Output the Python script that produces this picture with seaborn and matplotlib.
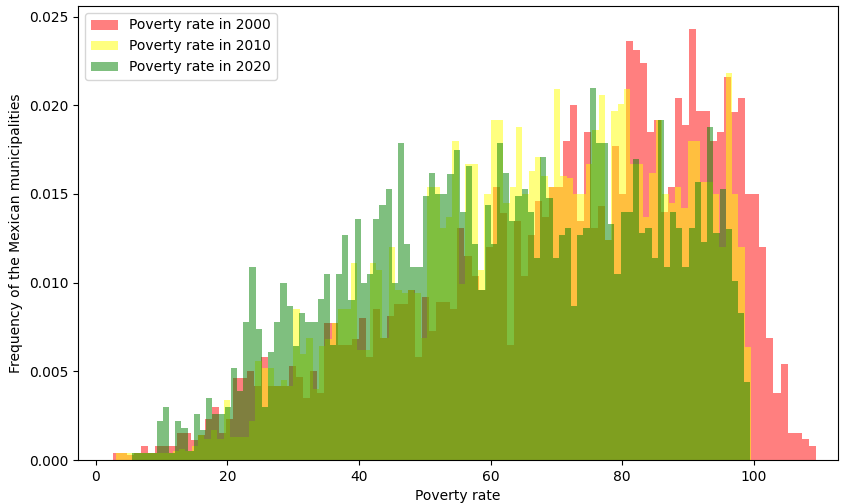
import numpy as np
import pandas as pd
import matplotlib
matplotlib.use("Agg")
import matplotlib.pyplot as plt
import seaborn as sns

# density per bin, 100 equal bins between each year's min and max poverty rate
range_2000 = [2.67, 109.4]
range_2010 = [3.0, 99.6]
range_2020 = [5.5, 99.5]

dens_2000 = [
    .0004, .0004, .0003, .0004, .0008, .0004, .0008, .0008, .0008, .0015,
    .0015, .0011, .0014, .0023, .0030, .0015, .0023, .0046, .0046, .0050,
    .0042, .0058, .0042, .0042, .0042, .0053, .0047, .0035, .0050, .0038,
    .0077, .0077, .0065, .0065, .0068, .0080, .0058, .0085, .0069, .0081,
    .0088, .0088, .0096, .0058, .0092, .0073, .0089, .0089, .0085, .0131,
    .0115, .0104, .0096, .0120, .0154, .0139, .0065, .0135, .0104, .0127,
    .0146, .0137, .0154, .0154, .0180, .0200, .0135, .0185, .0131, .0143,
    .0124, .0177, .0150, .0236, .0231, .0224, .0185, .0192, .0140, .0154,
    .0204, .0189, .0243, .0197, .0197, .0180, .0185, .0216, .0196, .0204,
    .0150, .0150, .0120, .0069, .0038, .0054, .0015, .0015, .0012, .0008,
]
dens_2010 = [
    .0004, .0004, .0004, .0004, .0004, .0004, .0004, .0004, .0004, .0005,
    .0006, .0005, .0008, .0014, .0012, .0017, .0012, .0034, .0013, .0013,
    .0013, .0022, .0056, .0052, .0052, .0042, .0045, .0042, .0085, .0060,
    .0069, .0040, .0064, .0068, .0077, .0085, .0085, .0111, .0062, .0062,
    .0111, .0107, .0069, .0120, .0096, .0094, .0096, .0094, .0069, .0154,
    .0154, .0131, .0137, .0180, .0099, .0167, .0167, .0107, .0150, .0192,
    .0192, .0145, .0154, .0188, .0150, .0163, .0171, .0160, .0154, .0209,
    .0160, .0159, .0150, .0150, .0167, .0186, .0206, .0124, .0197, .0201,
    .0209, .0167, .0167, .0137, .0162, .0192, .0150, .0145, .0154, .0142,
    .0180, .0180, .0157, .0157, .0150, .0120, .0218, .0150, .0120, .0064,
]
dens_2020 = [
    .0004, .0004, .0004, .0004, .0022, .0030, .0004, .0022, .0018, .0005,
    .0026, .0017, .0035, .0026, .0026, .0030, .0052, .0039, .0078, .0109,
    .0074, .0030, .0061, .0078, .0100, .0087, .0064, .0083, .0078, .0078,
    .0091, .0105, .0065, .0105, .0127, .0090, .0136, .0100, .0105, .0136,
    .0144, .0153, .0100, .0179, .0122, .0109, .0109, .0149, .0162, .0150,
    .0150, .0161, .0175, .0140, .0166, .0122, .0096, .0144, .0122, .0179,
    .0162, .0135, .0149, .0153, .0140, .0114, .0171, .0148, .0114, .0127,
    .0131, .0087, .0127, .0131, .0210, .0179, .0179, .0133, .0105, .0140,
    .0140, .0170, .0128, .0131, .0114, .0192, .0109, .0140, .0131, .0109,
    .0131, .0157, .0123, .0188, .0128, .0153, .0130, .0101, .0083, .0044,
]

labels = ["Poverty rate in 2000", "Poverty rate in 2010", "Poverty rate in 2020"]
colors = ["red", "yellow", "green"]

fig = plt.figure(figsize=(8.41, 5.04), dpi=100)
ax = fig.add_axes([78 / 841, 44 / 504, 760 / 841, 454 / 504])

for rng, dens, lab, col in zip([range_2000, range_2010, range_2020],
                               [dens_2000, dens_2010, dens_2020], labels, colors):
    edges = np.linspace(rng[0], rng[1], len(dens) + 1)
    df = pd.DataFrame({"rate": (edges[:-1] + edges[1:]) / 2, "dens": dens})
    sns.histplot(data=df, x="rate", weights="dens", bins=edges.tolist(), stat="count",
                 color=col, alpha=0.5, linewidth=0, label=lab, ax=ax)

ax.set_xlim(-2.7, 112.8)
ax.set_ylim(0, 0.0256)
ax.set_xticks([0, 20, 40, 60, 80, 100])
ax.set_yticks([0, 0.005, 0.01, 0.015, 0.02, 0.025])
ax.yaxis.set_major_formatter(matplotlib.ticker.FormatStrFormatter("%.3f"))
ax.set_xlabel("Poverty rate")
ax.set_ylabel("Frequency of the Mexican municipalities")
ax.legend(loc="upper left")

fig.savefig("out.png", dpi=100)
